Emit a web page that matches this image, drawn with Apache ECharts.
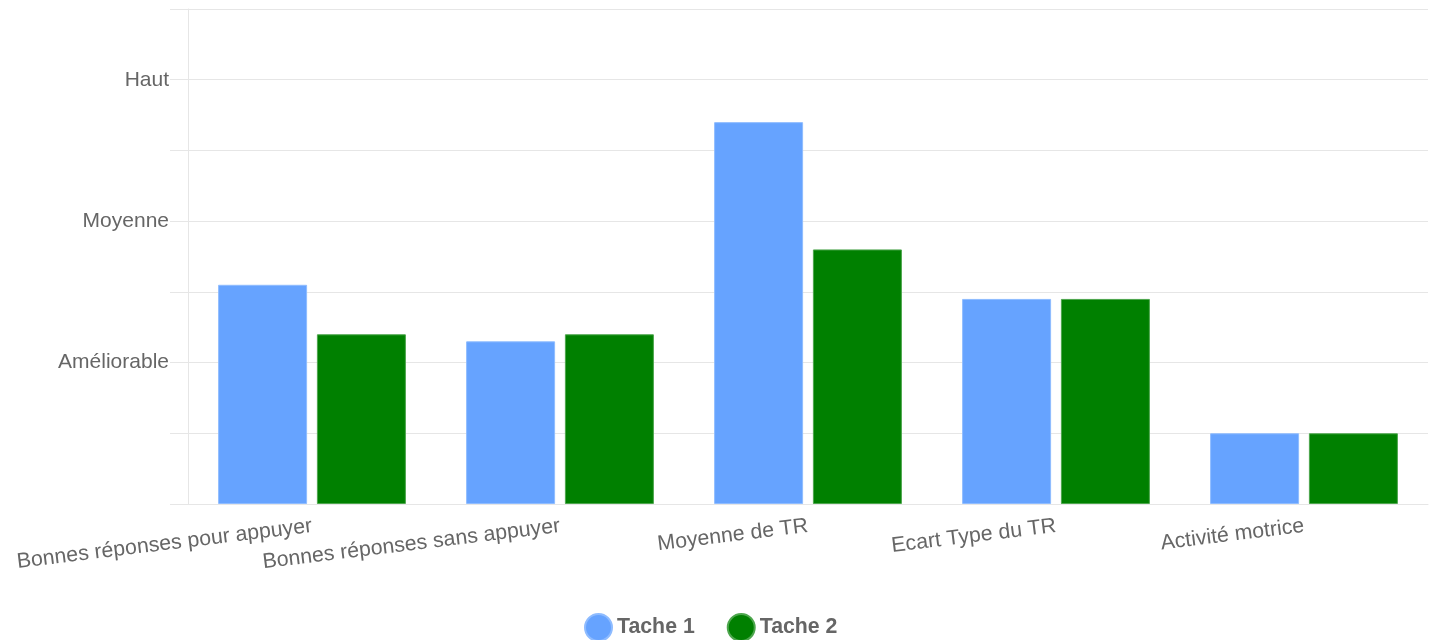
<!DOCTYPE html>
<html>
<head>
<meta charset="utf-8">
<script src="https://cdn.jsdelivr.net/npm/echarts@6/dist/echarts.min.js"></script>
<style>
html,body{margin:0;padding:0;background:#fff;}
#chart{width:1438px;height:640px;}
</style>
</head>
<body>
<div id="chart"></div>
<script>
const categories = ["Bonnes réponses pour appuyer", "Bonnes réponses sans appuyer", "Moyenne de TR", "Ecart Type du TR", "Activité motrice"];
const tache1 = [3.1, 2.3, 5.4, 2.9, 1.0];
const tache2 = [2.4, 2.4, 3.6, 2.9, 1.0];
const seriesNames = ["Tache 1", "Tache 2"];
const yTickLabels = {2: "Améliorable", 4: "Moyenne", 6: "Haut"};

const font = "'Liberation Sans', Arial, Helvetica, sans-serif";
const gridColor = "#e6e6e6";
const chart = echarts.init(document.getElementById('chart'));
chart.setOption({
  animation: false,
  textStyle: {fontFamily: font},
  grid: {left: 188, right: 10, top: 9, bottom: 136, containLabel: false},
  legend: {
    top: 608,
    left: 579,
    icon: 'circle',
    itemWidth: 27,
    itemHeight: 27,
    itemGap: 32,
    textStyle: {color: '#666', fontSize: 21.3, fontWeight: 'bold', fontFamily: font},
    data: seriesNames
  },
  xAxis: {
    type: 'category',
    data: categories,
    axisLine: {show: true, lineStyle: {color: gridColor}},
    axisTick: {show: false},
    splitLine: {show: false},
    axisLabel: {rotate: 7, color: '#666', fontSize: 21.3, margin: 22, interval: 0, fontFamily: font}
  },
  yAxis: {
    type: 'value',
    min: 0, max: 7, interval: 1,
    axisLine: {show: true, lineStyle: {color: gridColor}},
    axisTick: {show: true, length: 18, lineStyle: {color: gridColor}},
    splitLine: {show: true, lineStyle: {color: gridColor}},
    axisLabel: {
      color: '#666', fontSize: 21, margin: 19, fontFamily: font,
      formatter: v => yTickLabels[v] || ''
    }
  },
  series: [
    {
      name: seriesNames[0], type: 'bar', data: tache1,
      barWidth: 89, barGap: '11%',
      itemStyle: {color: '#66a3ff', borderColor: '#8fbcff', borderWidth: 1}
    },
    {
      name: seriesNames[1], type: 'bar', data: tache2,
      barWidth: 89,
      itemStyle: {color: '#008000', borderColor: '#4da64d', borderWidth: 1}
    }
  ]
});
</script>
</body>
</html>
